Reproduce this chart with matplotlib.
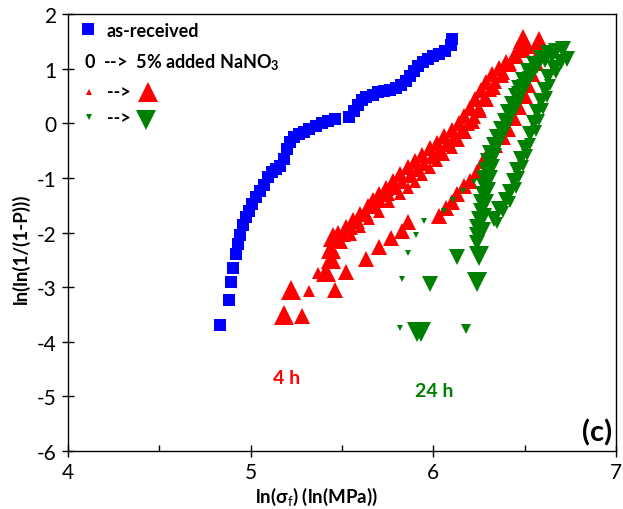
import matplotlib
matplotlib.use("Agg")
import matplotlib.pyplot as plt

plt.rcParams['font.family'] = ['Lato', 'DejaVu Sans']
plt.rcParams['mathtext.fontset'] = 'custom'
plt.rcParams['mathtext.rm'] = 'Lato'
plt.rcParams['mathtext.it'] = 'Lato:italic'
plt.rcParams['mathtext.bf'] = 'Lato:bold'
plt.rcParams['axes.unicode_minus'] = False

#_________Weibull data, ln(sigma_f) vs ln(ln(1/(1-P)))_________#

# as-received
blue_x = [4.834, 4.880, 4.895, 4.902, 4.918, 4.929, 4.940, 4.956, 4.973, 4.989,
          5.005, 5.027, 5.049, 5.071, 5.093, 5.115, 5.137, 5.158, 5.180, 5.197,
          5.213, 5.235, 5.262, 5.290, 5.322, 5.355, 5.388, 5.421, 5.459,
          5.541, 5.563, 5.585, 5.607, 5.634, 5.667, 5.699, 5.732, 5.765, 5.798,
          5.825, 5.852, 5.874, 5.896, 5.918, 5.945, 5.973, 6.000, 6.033, 6.066,
          6.098, 6.104]
blue_y = [-3.70, -3.24, -2.91, -2.65, -2.40, -2.21, -2.05, -1.86, -1.72, -1.61,
          -1.48, -1.35, -1.24, -1.13, -0.99, -0.89, -0.84, -0.78, -0.66, -0.47,
          -0.34, -0.25, -0.20, -0.16, -0.11, -0.05, 0.00, 0.04, 0.08,
          0.11, 0.22, 0.33, 0.42, 0.48, 0.52, 0.57, 0.59, 0.61, 0.64,
          0.70, 0.77, 0.86, 0.96, 1.05, 1.12, 1.18, 1.23, 1.27, 1.32,
          1.43, 1.54]

# 4 h, marker size grows with NaNO3 content
red_xl_x = [5.18, 5.22, 5.41, 5.44, 5.44, 5.45, 6.49, 6.58]
red_xl_y = [-3.51, -3.05, -2.73, -2.49, -2.30, -2.09, 1.54, 1.51]

red_l_x = [5.28, 5.46, 5.52, 5.63, 5.70, 5.77, 5.83, 5.86,
           6.03, 6.07, 6.10, 6.13, 6.17, 6.20, 6.24, 6.27, 6.30, 6.34,
           6.38, 6.41, 6.44, 6.47, 6.50, 6.52, 6.54, 6.56, 6.58]
red_l_y = [-3.53, -3.05, -2.73, -2.49, -2.27, -2.10, -1.97, -1.81,
           -1.70, -1.55, -1.45, -1.30, -1.15, -1.05, -0.90, -0.70, -0.55, -0.40,
           -0.25, -0.10, 0.10, 0.30, 0.50, 0.70, 0.90, 1.10, 1.30]

red_m_x = [5.45, 5.48, 5.52, 5.56, 5.60, 5.64, 5.67, 5.70, 5.74, 5.78,
           5.82, 5.86, 5.90, 5.94, 5.98, 6.02, 6.06, 6.10, 6.14, 6.17,
           6.20, 6.23, 6.26, 6.29, 6.32, 6.36, 6.40, 6.44, 6.47]
red_m_y = [-2.10, -2.00, -1.90, -1.78, -1.66, -1.52, -1.40, -1.30, -1.18, -1.06,
           -0.92, -0.80, -0.70, -0.58, -0.46, -0.36, -0.24, -0.12, 0.00, 0.14,
           0.28, 0.44, 0.60, 0.76, 0.90, 1.02, 1.12, 1.24, 1.36]

red_m2_x = [5.47, 5.51, 5.55, 5.59, 5.63, 5.67, 5.71, 5.75, 5.79, 5.83,
            5.87, 5.91, 5.95, 5.99, 6.03, 6.07, 6.11, 6.15, 6.19, 6.22,
            6.25, 6.28, 6.31, 6.34, 6.38, 6.42, 6.46, 6.52]
red_m2_y = [-2.16, -2.04, -1.92, -1.80, -1.66, -1.52, -1.42, -1.30, -1.18, -1.08,
            -0.96, -0.86, -0.74, -0.62, -0.52, -0.40, -0.28, -0.16, -0.02, 0.12,
            0.28, 0.44, 0.60, 0.76, 0.92, 1.08, 1.22, 1.40]

red_s_x = [5.32, 5.37, 5.50, 5.55, 5.60, 5.65, 5.70, 5.76, 5.82, 5.86, 5.90,
           5.94, 5.98, 6.02, 6.06, 6.10, 6.14, 6.18, 6.22, 6.26, 6.30,
           6.34, 6.38, 6.42, 6.46, 6.50]
red_s_y = [-3.07, -2.74, -2.20, -2.05, -1.90, -1.75, -1.62, -1.45, -1.30, -1.18, -1.08,
           -0.95, -0.82, -0.70, -0.58, -0.45, -0.32, -0.18, 0.00, 0.20, 0.40,
           0.62, 0.85, 1.05, 1.20, 1.30]

# 24 h
green_xl_x = [5.91, 5.935, 6.24, 6.25]
green_xl_y = [-3.82, -3.82, -2.91, -2.43]

green_l_x = [5.98, 6.13,
             6.24, 6.24, 6.24, 6.25, 6.26, 6.26, 6.27, 6.28, 6.28, 6.29,
             6.30, 6.31, 6.33, 6.35, 6.37, 6.39, 6.41, 6.43, 6.45, 6.47,
             6.49, 6.52, 6.55, 6.59, 6.63, 6.67, 6.71]
green_l_y = [-2.95, -2.45,
             -2.20, -2.05, -1.90, -1.75, -1.60, -1.45, -1.30, -1.15, -1.00, -0.85,
             -0.70, -0.55, -0.40, -0.25, -0.10, 0.05, 0.20, 0.35, 0.50, 0.65,
             0.80, 0.95, 1.08, 1.20, 1.28, 1.33, 1.36]

green_l2_x = [6.27, 6.28, 6.29, 6.30, 6.31, 6.32, 6.33, 6.35, 6.37, 6.39,
              6.41, 6.43, 6.45, 6.47, 6.49, 6.51, 6.54, 6.57, 6.61, 6.65]
green_l2_y = [-1.95, -1.70, -1.45, -1.22, -1.00, -0.80, -0.60, -0.42, -0.26, -0.10,
              0.04, 0.18, 0.32, 0.46, 0.60, 0.75, 0.90, 1.04, 1.16, 1.24]

green_m_x = [6.33, 6.36, 6.40, 6.42, 6.44, 6.46, 6.48, 6.50, 6.53, 6.55,
             6.57, 6.59, 6.61, 6.63, 6.66, 6.70, 6.73]
green_m_y = [-1.75, -1.57, -1.40, -1.25, -1.05, -0.85, -0.65, -0.45, -0.20, 0.00,
             0.20, 0.40, 0.60, 0.85, 1.02, 1.12, 1.18]

green_m2_x = [6.35, 6.38, 6.42, 6.45, 6.47, 6.49, 6.51, 6.53, 6.56, 6.58,
              6.60, 6.62, 6.64, 6.67]
green_m2_y = [-1.82, -1.62, -1.45, -1.18, -0.98, -0.78, -0.58, -0.38, -0.14, 0.06,
              0.26, 0.48, 0.70, 0.92]

green_s_x = [6.18]
green_s_y = [-3.77]

green_xs_x = [5.82, 5.83, 5.86, 5.907, 5.95, 6.06, 6.11, 6.16, 6.22, 6.44, 6.47, 6.50]
green_xs_y = [-3.75, -2.85, -2.38, -2.05, -1.79, -1.60, -1.40, -1.24, -1.08, 0.63, 0.75, 0.90]

BLUE = '#0000ff'
RED = '#ff0000'
GREEN = '#008000'

fig = plt.figure(figsize=(6.23, 5.10), dpi=100)
ax = fig.add_axes([0.1091, 0.1137, 0.8797, 0.8569])

ax.plot(blue_x, blue_y, 's', color=BLUE, ms=8.5, mew=0)

for xs, ys, ms in [(red_s_x, red_s_y, 8), (red_m2_x, red_m2_y, 10),
                   (red_m_x, red_m_y, 11), (red_l_x, red_l_y, 11),
                   (red_xl_x, red_xl_y, 14)]:
    ax.plot(xs, ys, '^', color=RED, ms=ms, mew=0)

for xs, ys, ms in [(green_xs_x, green_xs_y, 4), (green_s_x, green_s_y, 6.5),
                   (green_m2_x, green_m2_y, 9), (green_m_x, green_m_y, 11),
                   (green_l2_x, green_l2_y, 11), (green_l_x, green_l_y, 12),
                   (green_xl_x, green_xl_y, 14.5)]:
    ax.plot(xs, ys, 'v', color=GREEN, ms=ms, mew=0)

ax.set_xlim(4, 7)
ax.set_ylim(-6, 2)
ax.set_xticks([4, 5, 6, 7])
ax.set_xticks([4.5, 5.5, 6.5], minor=True)
ax.set_yticks(range(-6, 3))
ax.tick_params(which='major', direction='inout', length=9, width=1, labelsize=15)
ax.tick_params(which='minor', direction='in', length=4, width=1)
for sp in ax.spines.values():
    sp.set_linewidth(1)

ax.set_xlabel('ln(σ$_\\mathrm{f}$) (ln(MPa))', fontsize=13.5, fontweight='bold')
ax.set_ylabel('ln(ln(1/(1-P)))', fontsize=13.5, fontweight='bold')
ax.xaxis.set_label_coords(0.453, -0.078)
ax.yaxis.set_label_coords(-0.07, 0.465)

# hand-made legend
tr = ax.transAxes
ax.plot(0.0365, 0.9657, 's', color=BLUE, ms=8.5, mew=0, transform=tr)
ax.text(0.071, 0.962, 'as-received', transform=tr, fontsize=13,
        fontweight='bold', va='center')
ax.text(0.029, 0.892, r'0  -->  5% added NaNO$_\mathbf{3}$', transform=tr,
        fontsize=13, fontweight='bold', va='center')
ax.plot(0.038, 0.8215, '^', color=RED, ms=4, mew=0, transform=tr)
ax.text(0.071, 0.8215, '-->', transform=tr, fontsize=13, fontweight='bold', va='center')
ax.plot(0.146, 0.8215, '^', color=RED, ms=14, mew=0, transform=tr)
ax.plot(0.038, 0.764, 'v', color=GREEN, ms=4, mew=0, transform=tr)
ax.text(0.071, 0.764, '-->', transform=tr, fontsize=13, fontweight='bold', va='center')
ax.plot(0.142, 0.757, 'v', color=GREEN, ms=14, mew=0, transform=tr)

ax.text(5.197, -4.65, '4 h', color=RED, fontsize=14, fontweight='bold',
        ha='center', va='center')
ax.text(6.005, -4.90, '24 h', color=GREEN, fontsize=14, fontweight='bold',
        ha='center', va='center')
ax.text(0.992, 0.012, '(c)', transform=tr, fontsize=21, fontweight='bold',
        ha='right', va='bottom')

fig.savefig('out.png', dpi=100)
